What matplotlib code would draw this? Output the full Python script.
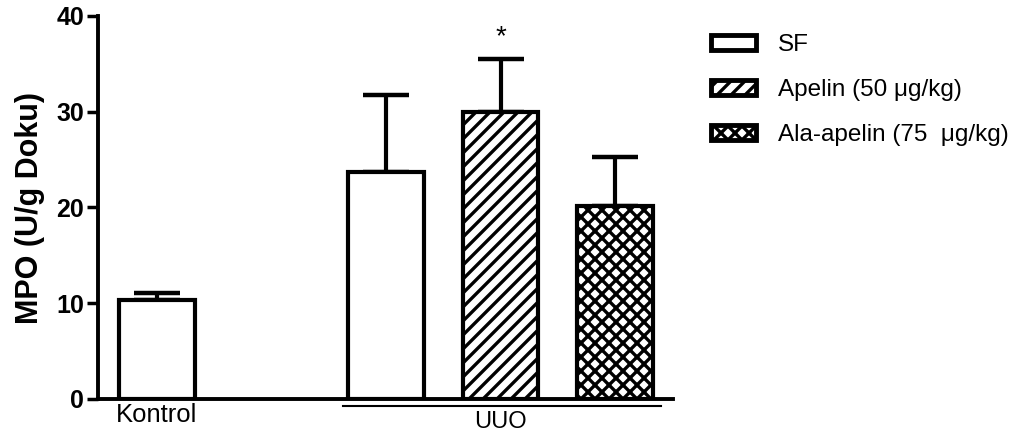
import matplotlib
matplotlib.use("Agg")
import matplotlib.pyplot as plt
from matplotlib.patches import Patch

# MPO activity per group
groups = ["Kontrol", "SF", "Apelin (50 μg/kg)", "Ala-apelin (75  μg/kg)"]
means = [10.3, 23.7, 30.0, 20.2]
sems = [0.8, 8.0, 5.5, 5.1]
positions = [0, 2, 3, 4]
hatches = ["", "", "//", "xx"]
legend_hatches = ["", "//", "xx"]
significant = [False, False, True, False]

# hatch spacing is fixed in inches, so render at a lower dpi for a finer pattern
DPI = 84
W, H = 1022, 441


def pt(v):
    # sizes below are tuned at 100 dpi
    return v * 100 / DPI


plt.rcParams["font.family"] = ["Liberation Sans", "DejaVu Sans"]
plt.rcParams["hatch.linewidth"] = pt(2.4)

fig = plt.figure(figsize=(W / DPI, H / DPI), dpi=DPI)
ax = fig.add_axes([98 / W, 1 - 399 / H, (673 - 98) / W, 383 / H])

bars = ax.bar(positions, means, width=0.66, color="white", edgecolor="black",
              linewidth=pt(3), zorder=2)
for bar, h in zip(bars, hatches):
    bar.set_hatch(h)

# upward-only error bars
ax.errorbar(positions, means, yerr=[[0] * len(sems), sems], fmt="none",
            ecolor="black", elinewidth=pt(3), capsize=pt(16.5), capthick=pt(3.2),
            zorder=1)

for x, m, s, sig in zip(positions, means, sems, significant):
    if sig:
        ax.text(x, m + s + 0.9, "*", ha="center", va="bottom", fontsize=pt(20))

ax.set_xlim(-0.515, 4.505)
ax.set_ylim(0, 40)
ax.set_yticks([0, 10, 20, 30, 40])
ax.tick_params(axis="y", length=pt(8), width=pt(2.5), labelsize=pt(18), pad=pt(2))
for lbl in ax.get_yticklabels():
    lbl.set_fontweight("bold")
ax.set_xticks([0])
ax.set_xticklabels(["Kontrol"], fontsize=pt(18.5))
ax.tick_params(axis="x", length=0, pad=pt(3))

ax.spines["top"].set_visible(False)
ax.spines["right"].set_visible(False)
ax.spines["left"].set_linewidth(pt(2.8))
ax.spines["bottom"].set_linewidth(pt(2.8))

ax.set_ylabel("MPO (U/g Doku)", fontsize=pt(22), fontweight="bold", labelpad=pt(8))

# group bracket under the UUO bars
tr = ax.get_xaxis_transform()
ax.plot([1.62, 4.40], [-0.017, -0.017], color="black", linewidth=pt(1.5),
        transform=tr, clip_on=False)
ax.text(3.0, -0.06, "UUO", transform=tr, ha="center", va="center", fontsize=pt(17))

handles = [Patch(facecolor="white", edgecolor="black", linewidth=pt(3.5), hatch=h)
           for h in legend_hatches]
ax.legend(handles, groups[1:], loc="upper left", bbox_to_anchor=(1.05, 0.978),
          frameon=False, fontsize=pt(17.5), handlelength=1.85, handleheight=0.6,
          handletextpad=0.9, labelspacing=0.95, borderaxespad=0)

fig.savefig("out.png", dpi=DPI)
